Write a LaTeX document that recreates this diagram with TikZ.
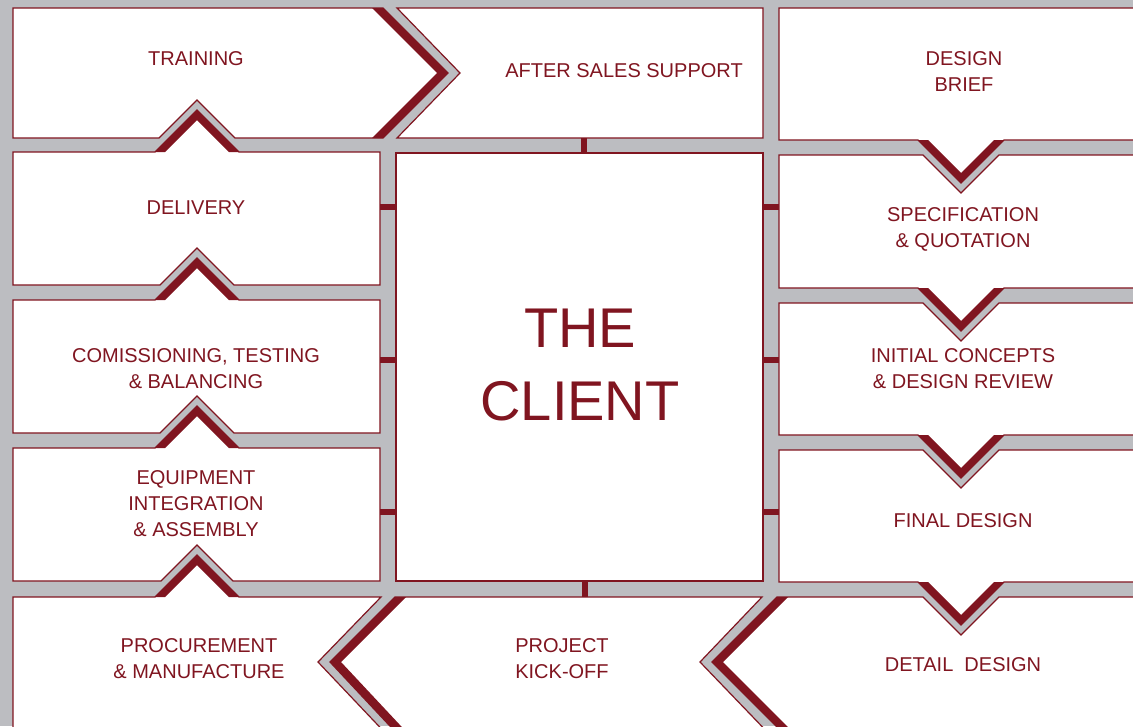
\documentclass[tikz,border=0pt]{standalone}
\usepackage{fontspec}
\setmainfont{Liberation Sans}
\definecolor{myred}{RGB}{128,21,32}
\definecolor{mygray}{RGB}{188,189,193}
\begin{document}
\begin{tikzpicture}[x=1pt,y=-1pt,
 box/.style={fill=white,draw=myred,line width=1.2pt,line join=miter},
 band/.style={fill=myred},
 bar/.style={fill=myred},
 lbl/.style={text=myred,align=center,font=\fontsize{20}{26}\selectfont,inner sep=0pt}]
\fill[mygray] (0,0) rectangle (1133,726);
\useasboundingbox (0,0) rectangle (1133,726);
\begin{scope}
\clip (0,0) rectangle (1133,726);
% ---------- left column ----------
\draw[box] (13,8) -- (383,8) -- (448,73) -- (383,138) -- (235,138) -- (197,100) -- (159,138) -- (13,138) -- cycle;
\draw[box] (13,152) -- (155,152) -- (197,110) -- (239,152) -- (380,152) -- (380,285) -- (234,285) -- (197,248) -- (160,285) -- (13,285) -- cycle;
\draw[box] (13,300) -- (155,300) -- (197,258) -- (239,300) -- (380,300) -- (380,433) -- (234,433) -- (197,396) -- (160,433) -- (13,433) -- cycle;
\draw[box] (13,448) -- (155,448) -- (197,406) -- (239,448) -- (380,448) -- (380,581) -- (233,581) -- (197,545) -- (161,581) -- (13,581) -- cycle;
\draw[box] (13,740) -- (13,597) -- (155,597) -- (197,555) -- (239,597) -- (381,597) -- (318,662) -- (392,740) -- cycle;
% ---------- centre ----------
\draw[box] (397,8) -- (763,8) -- (763,138) -- (397,138) -- (460,73) -- cycle;
\draw[box] (396,153) rectangle (763,581);
\draw[box] (395,597) -- (762,597) -- (700,662) -- (775,740) -- (403,740) -- (330,662) -- cycle;
% ---------- right column ----------
\draw[box] (779,8) -- (1145,8) -- (1145,140) -- (1004,140) -- (961,183) -- (918,140) -- (779,140) -- cycle;
\draw[box] (779,155) -- (923,155) -- (961,193) -- (999,155) -- (1145,155) -- (1145,288) -- (1004,288) -- (961,331) -- (918,288) -- (779,288) -- cycle;
\draw[box] (779,303) -- (923,303) -- (961,341) -- (999,303) -- (1145,303) -- (1145,435) -- (1004,435) -- (961,478) -- (918,435) -- (779,435) -- cycle;
\draw[box] (779,450) -- (923,450) -- (961,488) -- (999,450) -- (1145,450) -- (1145,582) -- (1004,582) -- (961,625) -- (918,582) -- (779,582) -- cycle;
\draw[box] (712,662) -- (777,597) -- (923,597) -- (961,635) -- (999,597) -- (1145,597) -- (1145,740) -- (790,740) -- cycle;
% ---------- thick bands on the tabs ----------
\fill[band] (372,8) -- (383,8) -- (448,73) -- (383,138) -- (372,138) -- (437,73) -- cycle;
\foreach \t in {152,300,448,597}{
  \fill[band] (155,\t) -- (197,\t-42) -- (239,\t) -- (229,\t) -- (197,\t-32) -- (165,\t) -- cycle;
}
\foreach \b in {140,288,435,582}{
  \fill[band] (918,\b) -- (961,\b+43) -- (1004,\b) -- (994,\b) -- (961,\b+33) -- (928,\b) -- cycle;
}
\fill[band] (395,597) -- (406,597) -- (341,662) -- (414,740) -- (403,740) -- (330,662) -- cycle;
\fill[band] (777,597) -- (788,597) -- (723,662) -- (801,740) -- (790,740) -- (712,662) -- cycle;
% ---------- connector bars ----------
\foreach \y in {204,357,509}{
  \fill[bar] (380,\y) rectangle (396,\y+6);
  \fill[bar] (763,\y) rectangle (779,\y+6);
}
\fill[bar] (581,138) rectangle (587,153);
\fill[bar] (582,581) rectangle (588,597);
\end{scope}
% ---------- labels ----------
\node[lbl] (train) at (196,59) {TRAINING};
\node[lbl] (after) at (624,71) {AFTER SALES SUPPORT};
\node[lbl] (brief) at (964,72) {DESIGN\\BRIEF};
\node[lbl] (deliv) at (196,208) {DELIVERY};
\node[lbl] (spec) at (963,229) {SPECIFICATION\\\&\ QUOTATION};
\node[lbl] (comm) at (196,369) {COMISSIONING, TESTING\\\&\ BALANCING};
\node[lbl] (init) at (963,369) {INITIAL CONCEPTS\\\&\ DESIGN REVIEW};
\node[lbl] (equip) at (196,504) {EQUIPMENT\\INTEGRATION\\\&\ ASSEMBLY};
\node[lbl] (final) at (963,521) {FINAL DESIGN};
\node[lbl] (proc) at (199,659) {PROCUREMENT\\\&\ MANUFACTURE};
\node[lbl] (kick) at (562,659) {PROJECT\\KICK-OFF};
\node[lbl] (detail) at (963,665) {DETAIL\ \ DESIGN};
\node[lbl,font=\fontsize{56}{73}\selectfont] (client) at (580,365) {THE\\CLIENT};
\end{tikzpicture}
\end{document}
